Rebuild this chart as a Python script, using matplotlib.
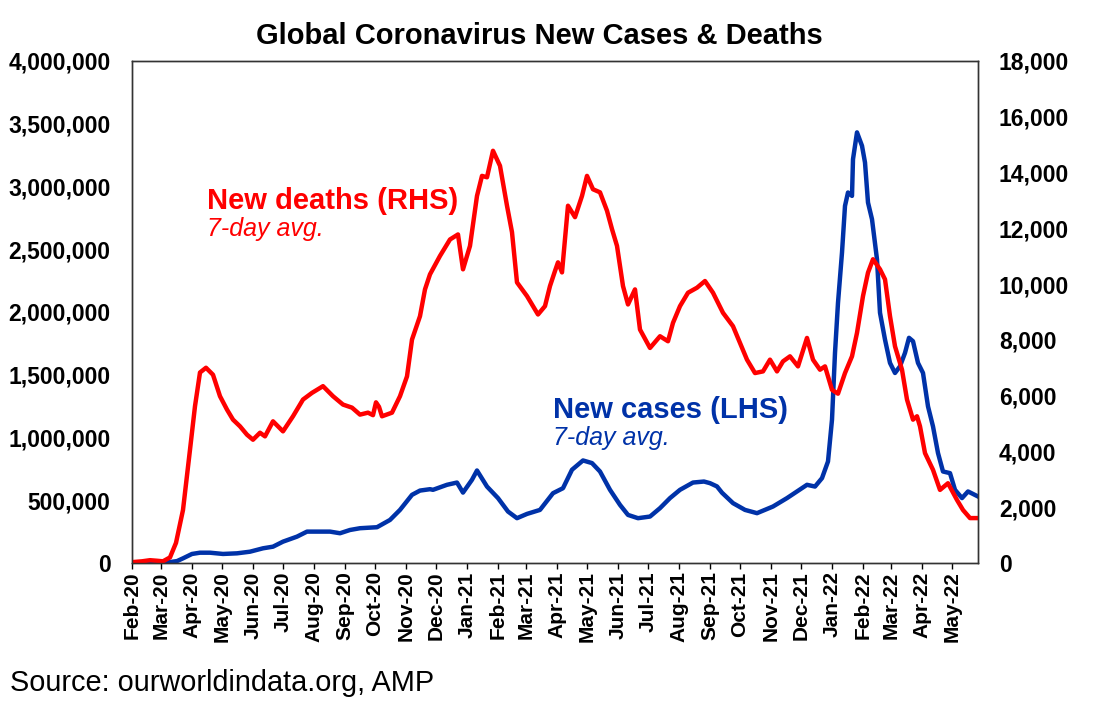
import numpy as np
import pandas as pd
import matplotlib
matplotlib.use('Agg')
import matplotlib.pyplot as plt
import matplotlib.dates as mdates
from matplotlib.ticker import FuncFormatter, MultipleLocator

plt.rcParams['font.family'] = ['Liberation Sans', 'DejaVu Sans']

# --- data (7-day averages) ---
start = pd.Timestamp('2020-02-01')
end = pd.Timestamp('2022-05-27')

# new deaths (RHS): days since 1 Feb 2020, deaths per day
death_day = [0, 10, 18, 25, 31, 38, 44, 51, 58, 63, 68, 74, 81, 88, 95, 101,
             108, 115, 121, 128, 133, 141, 151, 161, 171, 180, 191, 201, 211,
             220, 228, 236, 241, 244, 247, 250, 260, 268, 275, 280, 288, 293,
             298, 308, 318, 326, 331, 338, 345, 350, 355, 361, 368, 375, 380,
             385, 395, 401, 406, 413, 418, 423, 426, 430, 436, 443, 450, 455,
             461, 468, 475, 480, 485, 491, 496, 503, 508, 518, 528, 536, 541,
             548, 556, 565, 573, 581, 591, 601, 608, 615, 623, 631, 638, 645,
             651, 658, 666, 675, 681, 688, 693, 700, 706, 713, 720, 725, 731,
             736, 741, 748, 753, 758, 763, 770, 775, 781, 785, 788, 793, 801,
             808, 816, 825, 831, 838, 846]
deaths = [30, 60, 100, 80, 60, 200, 720, 1900, 4060, 5620, 6830, 7000, 6750,
          5980, 5500, 5140, 4900, 4600, 4420, 4670, 4540, 5080, 4720, 5260,
          5860, 6100, 6340, 5980, 5680, 5570, 5320, 5390, 5300, 5760, 5600,
          5260, 5390, 5980, 6690, 8010, 8850, 9810, 10350, 11010, 11600,
          11780, 10530, 11370, 13160, 13880, 13830, 14780, 14240, 12810,
          11860, 10060, 9570, 9210, 8910, 9210, 9930, 10470, 10780, 10420,
          12810, 12400, 13160, 13880, 13400, 13290, 12630, 11970, 11370, 9930,
          9270, 9810, 8370, 7710, 8130, 7950, 8610, 9210, 9690, 9870, 10110,
          9690, 8970, 8490, 7890, 7290, 6810, 6870, 7290, 6870, 7230, 7410,
          7050, 8070, 7290, 6930, 7050, 6210, 6070, 6810, 7410, 8250, 9570,
          10410, 10890, 10530, 10170, 8850, 7770, 6930, 5860, 5140, 5260, 4900,
          3940, 3340, 2620, 2860, 2260, 1900, 1610, 1610]

# new cases (LHS): days since 1 Feb 2020, cases per day (thousands)
case_day = [0, 20, 35, 45, 51, 60, 68, 78, 91, 105, 118, 131, 141, 151, 165,
            175, 185, 198, 208, 218, 228, 245, 258, 268, 280, 288, 298, 301,
            315, 325, 331, 340, 345, 355, 366, 376, 385, 395, 408, 421, 431,
            440, 451, 460, 468, 478, 488, 496, 506, 518, 528, 538, 548, 561,
            572, 578, 585, 590, 601, 613, 625, 641, 655, 665, 675, 683, 690,
            696, 700, 703, 706, 710, 713, 716, 720, 721, 725, 730, 733, 736,
            740, 745, 748, 753, 758, 763, 768, 773, 777, 781, 786, 791, 796,
            801, 806, 811, 818, 823, 830, 836, 846]
cases_k = [2, 2, 4, 15, 37, 72, 82, 82, 72, 77, 90, 117, 130, 170, 210, 250,
           250, 250, 237, 263, 277, 285, 343, 423, 543, 577, 588, 583, 623,
           641, 561, 663, 737, 609, 517, 410, 357, 391, 423, 556, 596, 743,
           817, 796, 729, 583, 463, 383, 357, 370, 437, 517, 583, 641, 649,
           636, 610, 560, 477, 423, 397, 450, 517, 570, 623, 609, 676, 809,
           1142, 1674, 2073, 2473, 2845, 2952, 2925, 3217, 3431, 3324, 3191,
           2872, 2739, 2419, 1994, 1780, 1594, 1514, 1567, 1674, 1794, 1767,
           1594, 1514, 1248, 1088, 876, 729, 716, 583, 517, 570, 530]

red = '#FF0000'
blue = '#0032A8'

death_dates = start + pd.to_timedelta(death_day, unit='D')
case_dates = start + pd.to_timedelta(case_day, unit='D')

fig = plt.figure(figsize=(10.99, 7.14), dpi=100)
ax = fig.add_axes([0.1201, 0.2115, 0.7698, 0.7031])
ax2 = ax.twinx()

ax.plot(case_dates, np.array(cases_k) * 1000, color=blue, lw=3.2,
        solid_joinstyle='round')
ax2.plot(death_dates, deaths, color=red, lw=3.2, solid_joinstyle='round')

ax.set_xlim(start, end)
ax.set_ylim(0, 4_000_000)
ax2.set_ylim(0, 18_000)
ax.yaxis.set_major_locator(MultipleLocator(500_000))
ax2.yaxis.set_major_locator(MultipleLocator(2000))
comma = FuncFormatter(lambda v, p: f'{v:,.0f}')
ax.yaxis.set_major_formatter(comma)
ax2.yaxis.set_major_formatter(comma)

ax.xaxis.set_major_locator(mdates.MonthLocator())
ax.xaxis.set_major_formatter(mdates.DateFormatter('%b-%y'))
ax.tick_params(axis='x', direction='out', length=4, width=1, pad=2,
               labelsize=15, rotation=90)
ax.tick_params(axis='y', length=0, pad=15.5, labelsize=16.5)
ax2.tick_params(axis='y', length=0, pad=15, labelsize=16.5)
for lab in ax.get_xticklabels() + ax.get_yticklabels() + ax2.get_yticklabels():
    lab.set_fontweight('bold')

for a in (ax, ax2):
    for s in a.spines.values():
        s.set_color('#333333')
        s.set_linewidth(1)

# labels inside the plot
ax.text(0.0887, 0.721, 'New deaths (RHS)', transform=ax.transAxes, color=red,
        fontsize=21, fontweight='bold', va='center', ha='left')
ax.text(0.0887, 0.665, '7-day avg.', transform=ax.transAxes, color=red,
        fontsize=18, fontstyle='italic', va='center', ha='left')
ax.text(0.4976, 0.305, 'New cases (LHS)', transform=ax.transAxes, color=blue,
        fontsize=21, fontweight='bold', va='center', ha='left')
ax.text(0.4976, 0.249, '7-day avg.', transform=ax.transAxes, color=blue,
        fontsize=18, fontstyle='italic', va='center', ha='left')

fig.text(0.4905, 0.9496, 'Global Coronavirus New Cases & Deaths',
         fontsize=21, fontweight='bold', ha='center', va='center')
fig.text(0.009, 0.0434, 'Source: ourworldindata.org, AMP', fontsize=20.8,
         ha='left', va='center')

fig.savefig('out.png', dpi=100)
